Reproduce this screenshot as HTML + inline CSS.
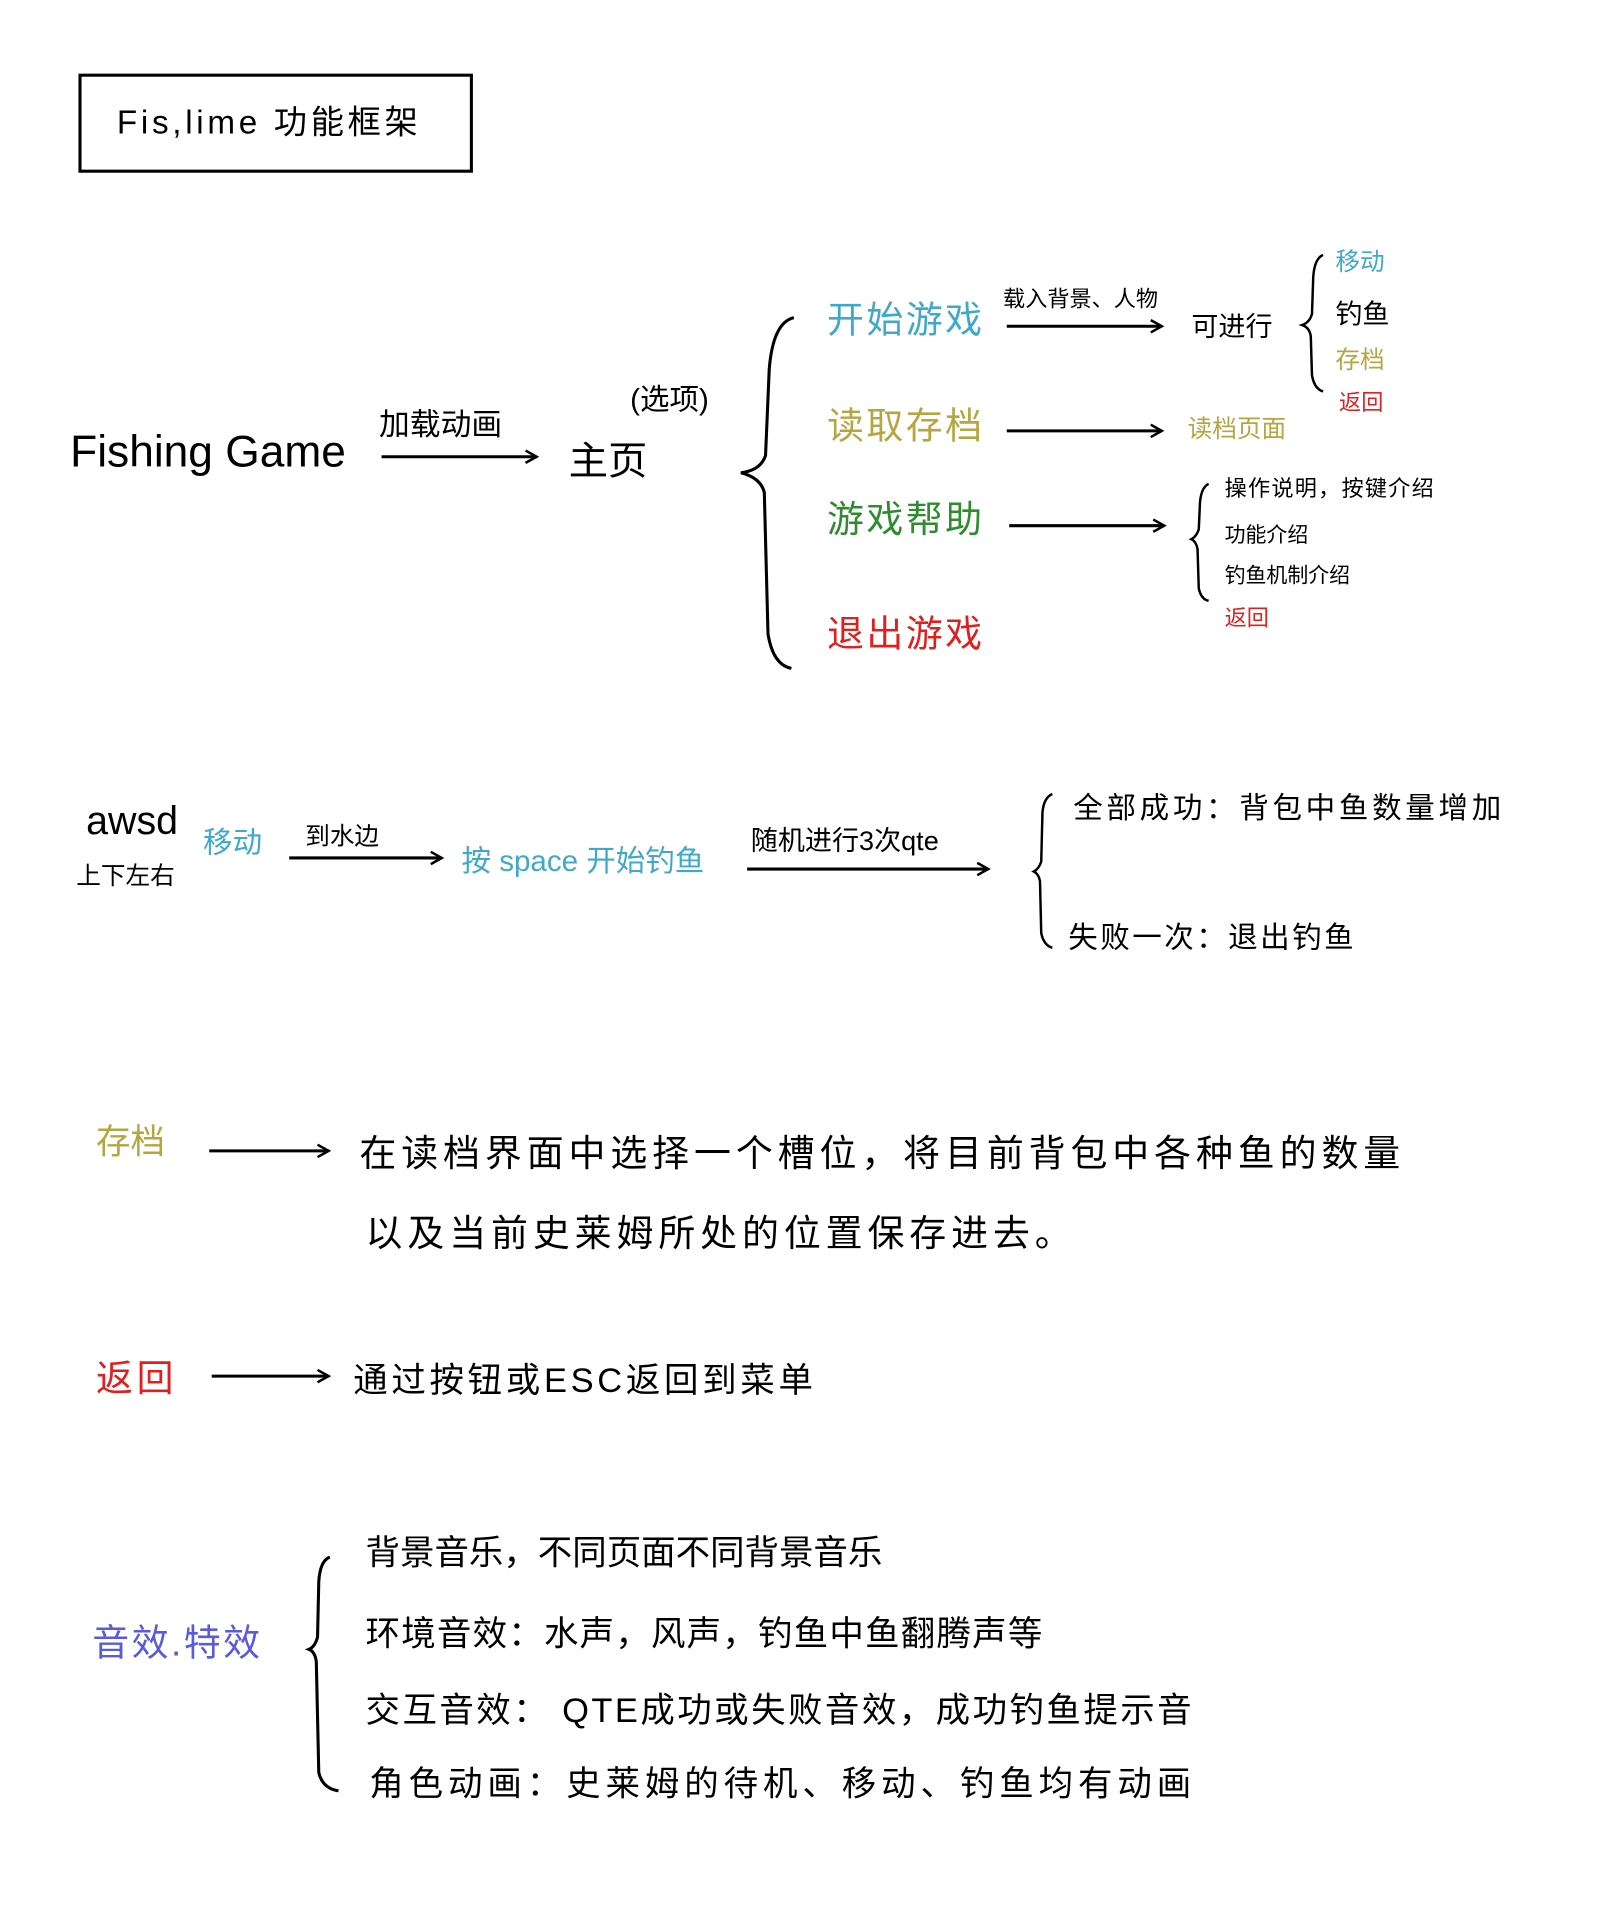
<!DOCTYPE html>
<html><head><meta charset="utf-8"><style>
html,body{margin:0;padding:0;background:#fff;}
svg{display:block}
text{font-family:"Liberation Sans","Noto Sans CJK SC",sans-serif;dominant-baseline:central;}
</style></head><body>
<svg width="1600" height="1919" viewBox="0 0 1300 1559" xmlns="http://www.w3.org/2000/svg">
<defs><marker id="a" markerWidth="12" markerHeight="12" refX="10" refY="6" orient="auto" markerUnits="userSpaceOnUse"><path d="M1,1 L10,6 L1,11" fill="none" stroke="#000" stroke-width="2"/></marker></defs>
<g stroke="#000" stroke-width="2.5" fill="none">
<rect x="65" y="61" width="318" height="78"/>
<line x1="310" y1="371" x2="436" y2="371" marker-end="url(#a)"/>
<path d="M645,258 Q628,262 625,300 L622,370 Q618,382 602,384 Q618,388 621,400 L624,515 Q628,540 643,543"/>
<line x1="818" y1="265" x2="944" y2="265" marker-end="url(#a)"/>
<line x1="818" y1="350" x2="944" y2="350" marker-end="url(#a)"/>
<line x1="820" y1="427" x2="946" y2="427" marker-end="url(#a)"/>
<path d="M1075,207 Q1068,210 1067,225 L1066,255 Q1064,262 1058,264 Q1064,266 1065,273 L1066,305 Q1068,316 1075,318" stroke-width="2"/>
<path d="M982,393 Q976,396 975,408 L974,430 Q972,436 968,438 Q972,440 973,446 L974,478 Q976,487 982,488" stroke-width="2"/>
<line x1="235" y1="697" x2="359" y2="697" marker-end="url(#a)"/>
<line x1="607" y1="706" x2="803" y2="706" marker-end="url(#a)"/>
<path d="M855,645 Q848,648 847,660 L846,700 Q844,706 840,708 Q844,710 845,716 L846,758 Q848,768 855,770" stroke-width="2"/>
<line x1="170" y1="935" x2="267" y2="935" marker-end="url(#a)"/>
<line x1="172" y1="1118" x2="267" y2="1118" marker-end="url(#a)"/>
<path d="M268,1265 Q260,1268 259,1285 L258,1330 Q256,1338 251,1340 Q256,1342 257,1350 L259,1440 Q262,1453 275,1455"/>
</g>
<g fill="#000">
<text x="95" y="100" font-size="27" letter-spacing="3">Fis,lime 功能框架</text>
<text x="57" y="367" font-size="36">Fishing Game</text>
<text x="308" y="345" font-size="25">加载动画</text>
<text x="462" y="375" font-size="32">主页</text>
<text x="512" y="325" font-size="24">(选项)</text>
<text x="672" y="260" font-size="30" letter-spacing="2" fill="#3fa9c9">开始游戏</text>
<text x="815" y="243" font-size="18">载入背景、人物</text>
<text x="968" y="265" font-size="22">可进行</text>
<text x="1085" y="213" font-size="20" fill="#3fa9c9">移动</text>
<text x="1085" y="255" font-size="22">钓鱼</text>
<text x="1085" y="293" font-size="20" fill="#b5a642">存档</text>
<text x="1088" y="327" font-size="18" fill="#e02020">返回</text>
<text x="672" y="346" font-size="30" letter-spacing="2" fill="#b5a642">读取存档</text>
<text x="965" y="349" font-size="20" fill="#b5a642">读档页面</text>
<text x="672" y="422" font-size="30" letter-spacing="2" fill="#2e8b2e">游戏帮助</text>
<text x="995" y="397" font-size="18" letter-spacing="1">操作说明，按键介绍</text>
<text x="995" y="435" font-size="17">功能介绍</text>
<text x="995" y="468" font-size="17">钓鱼机制介绍</text>
<text x="995" y="502" font-size="18" fill="#e02020">返回</text>
<text x="672" y="515" font-size="30" letter-spacing="2" fill="#e02020">退出游戏</text>
<text x="70" y="667" font-size="32">awsd</text>
<text x="62" y="712" font-size="20">上下左右</text>
<text x="165" y="685" font-size="24" fill="#3fa9c9">移动</text>
<text x="248" y="680" font-size="20">到水边</text>
<text x="375" y="700" font-size="24" fill="#3fa9c9">按 space 开始钓鱼</text>
<text x="610" y="683" font-size="22">随机进行3次qte</text>
<text x="872" y="657" font-size="24" letter-spacing="3">全部成功：背包中鱼数量增加</text>
<text x="868" y="762" font-size="24" letter-spacing="2">失败一次：退出钓鱼</text>
<text x="78" y="928" font-size="28" fill="#b5a642">存档</text>
<text x="292" y="937" font-size="30" letter-spacing="4">在读档界面中选择一个槽位，将目前背包中各种鱼的数量</text>
<text x="297" y="1002" font-size="30" letter-spacing="4">以及当前史莱姆所处的位置保存进去。</text>
<text x="78" y="1120" font-size="30" letter-spacing="3" fill="#e02020">返回</text>
<text x="287" y="1122" font-size="28" letter-spacing="3">通过按钮或ESC返回到菜单</text>
<text x="75" y="1335" font-size="30" letter-spacing="2" fill="#5a5adc">音效.特效</text>
<text x="297" y="1262" font-size="28">背景音乐，不同页面不同背景音乐</text>
<text x="297" y="1328" font-size="28" letter-spacing="1">环境音效：水声，风声，钓鱼中鱼翻腾声等</text>
<text x="297" y="1390" font-size="28" letter-spacing="2">交互音效：  QTE成功或失败音效，成功钓鱼提示音</text>
<text x="300" y="1450" font-size="28" letter-spacing="4">角色动画：史莱姆的待机、移动、钓鱼均有动画</text>
</g>
</svg>
</body></html>
